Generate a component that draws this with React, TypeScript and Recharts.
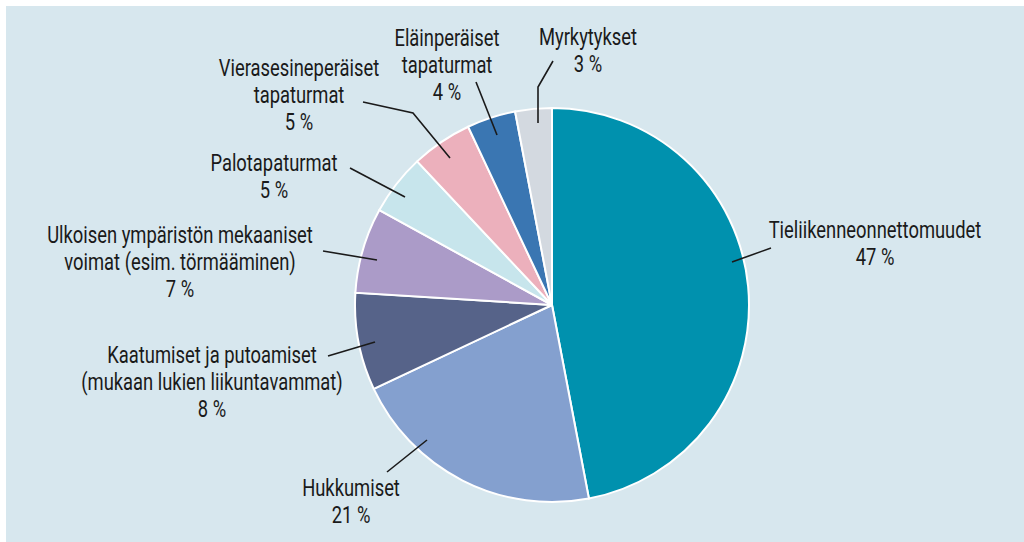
import { Cell, Pie, PieChart } from "recharts";

const categories = [
  ["Tieliikenneonnettomuudet"],
  ["Hukkumiset"],
  ["Kaatumiset ja putoamiset", "(mukaan lukien liikuntavammat)"],
  ["Ulkoisen ympäristön mekaaniset", "voimat (esim. törmääminen)"],
  ["Palotapaturmat"],
  ["Vierasesineperäiset", "tapaturmat"],
  ["Eläinperäiset", "tapaturmat"],
  ["Myrkytykset"],
];
const shares = [47, 21, 8, 7, 5, 5, 4, 3];
const colors = [
  "#0091ae",
  "#84a0cf",
  "#566389",
  "#ab9bc8",
  "#c7e5ec",
  "#ecb0bc",
  "#3a76b2",
  "#d3d9e0",
];

// leader lines and text centres, relative to the pie centre
const leaderLines: number[][][] = [
  [[180, -43], [219, -57]],
  [[-125, 135], [-165, 167]],
  [[-177, 37], [-224, 51]],
  [[-175, -45], [-229, -54]],
  [[-147, -108], [-202, -137]],
  [[-102, -147], [-139, -192], [-189, -203]],
  [[-55, -170], [-76, -223]],
  [[-14, -182], [-14, -218], [1, -244]],
];
const textPos: number[][] = [
  [323, -75],
  [-201, 183],
  [-340, 50],
  [-372, -70],
  [-278, -142],
  [-253, -237],
  [-105, -267],
  [36, -268],
];

const data = categories.map((lines, i) => ({
  name: lines.join(" "),
  lines,
  value: shares[i],
}));

const LINE_H = 27;
const SQUEEZE = 0.75;

function renderLabel(props: any) {
  const { cx, cy, index } = props;
  const pts = leaderLines[index];
  const [tx, ty] = textPos[index];
  const rows = [...data[index].lines, `${shares[index]} %`];
  return (
    <g key={`lbl-${index}`}>
      <polyline
        points={pts.map(([x, y]) => `${cx + x},${cy + y}`).join(" ")}
        fill="none"
        stroke="#1a1a1a"
        strokeWidth={1.6}
      />
      <g transform={`translate(${cx + tx},${cy + ty}) scale(${SQUEEZE},1)`}>
        {rows.map((row, j) => (
          <text
            key={j}
            x={0}
            y={j * LINE_H}
            textAnchor="middle"
            dominantBaseline="central"
            fontFamily="Roboto, sans-serif"
            fontSize={24.5}
            fill="#1a1a1a"
          >
            {row}
          </text>
        ))}
      </g>
    </g>
  );
}

export default function App() {
  return (
    <div
      style={{
        position: "absolute",
        left: 6,
        top: 6,
        width: 1018,
        height: 536,
        background: "#d7e7ee",
      }}
    >
      <PieChart width={1018} height={536}>
        <Pie
          data={data}
          dataKey="value"
          nameKey="name"
          cx={541}
          cy={294}
          outerRadius={197}
          startAngle={90}
          endAngle={-270}
          stroke="#ffffff"
          strokeWidth={2}
          label={renderLabel}
          labelLine={false}
          isAnimationActive={false}
        >
          {data.map((d, i) => (
            <Cell key={d.name} fill={colors[i]} />
          ))}
        </Pie>
      </PieChart>
    </div>
  );
}
